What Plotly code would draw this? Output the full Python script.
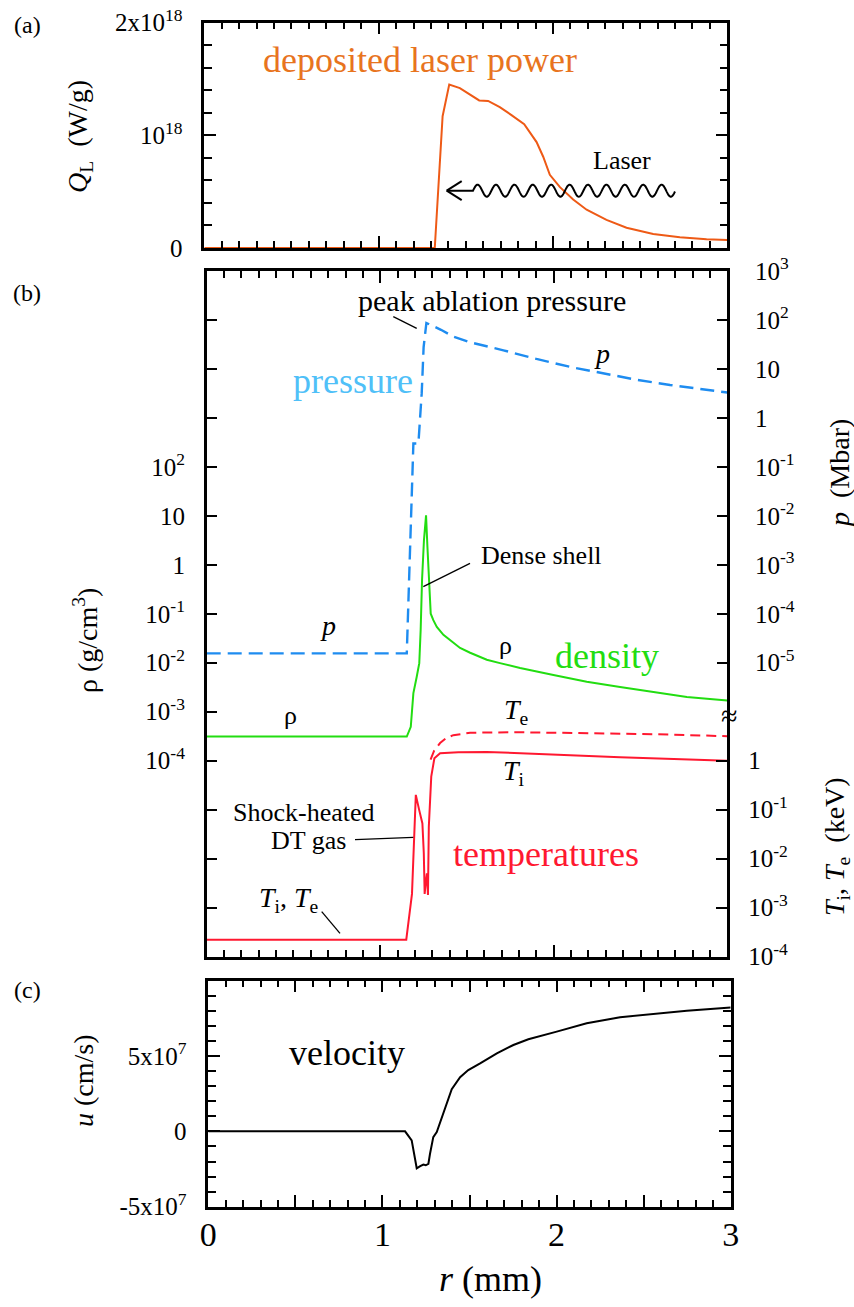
import plotly.graph_objects as go
import numpy as np

W, H = 854, 1307
FONT = "Liberation Serif"

# ---------------- data ----------------
# (a) deposited laser power, r in mm, Q in W/g
r_Q = [0, 1.322, 1.367, 1.405, 1.466, 1.523, 1.577, 1.628, 1.695, 1.762, 1.835, 1.906,
       1.944, 1.982, 2.04, 2.116, 2.193, 2.307, 2.422, 2.575, 2.728, 2.881, 3.0]
Q_L = [0, 0, 1.17e18, 1.45e18, 1.42e18, 1.36e18, 1.31e18, 1.305e18, 1.25e18, 1.18e18, 1.10e18,
       0.94e18, 0.81e18, 0.65e18, 0.54e18, 0.43e18, 0.34e18, 0.25e18, 0.18e18, 0.124e18,
       0.095e18, 0.077e18, 0.071e18]

# (b) density, g/cm^3
r_rho = [0, 1.153, 1.176, 1.191, 1.21, 1.225, 1.233, 1.241, 1.252, 1.264, 1.272, 1.283, 1.291,
         1.306, 1.326, 1.364, 1.421, 1.46, 1.518, 1.614, 1.69, 1.806, 1.998, 2.19, 2.382,
         2.574, 2.767, 3.0]
rho = [3.1e-4, 3.1e-4, 4.9e-4, 2.4e-3, 5.1e-3, 9.8e-3, 0.047, 0.49, 3.2, 10.2, 2.3, 0.30, 0.10,
       0.074, 0.054, 0.037, 0.025, 0.020, 0.016, 0.0115, 0.0098, 0.0078, 0.0056, 0.0041,
       0.0032, 0.0025, 0.0020, 0.0017]

# (b) pressure, Mbar
r_p = [0, 1.153, 1.191, 1.22, 1.239, 1.25, 1.266, 1.35, 1.42, 1.518, 1.71, 1.90, 2.094,
       2.286, 2.478, 2.67, 2.862, 3.0]
p = [1.55e-5, 1.55e-5, 0.30, 0.30, 3.2, 28, 87, 63, 46, 35, 24, 16, 11, 8.1, 6.0, 4.7, 3.8, 3.3]

# (b) ion temperature, keV
r_Ti = [0, 1.15, 1.183, 1.197, 1.205, 1.224, 1.243, 1.251, 1.256, 1.262, 1.269, 1.275, 1.28,
        1.294, 1.312, 1.345, 1.45, 1.614, 1.998, 2.382, 3.0]
T_i = [2.2e-4, 2.2e-4, 1.9e-3, 0.045, 0.20, 0.10, 0.052, 0.013, 0.0019, 0.0032, 0.005, 0.0018,
       0.045, 0.47, 1.12, 1.41, 1.48, 1.51, 1.32, 1.17, 1.0]

# (b) electron temperature, keV (where it departs from T_i)
r_Te = [1.29, 1.31, 1.345, 1.38, 1.421, 1.518, 1.806, 2.19, 2.574, 3.0]
T_e = [1.05, 1.58, 2.29, 2.88, 3.31, 3.72, 3.80, 3.63, 3.47, 3.16]

# (c) velocity, cm/s
r_u = [0, 1.13, 1.168, 1.187, 1.197, 1.217, 1.235, 1.249, 1.264, 1.273, 1.292, 1.312, 1.341,
       1.369, 1.398, 1.446, 1.493, 1.561, 1.657, 1.752, 1.838, 2.001, 2.173, 2.365, 2.556,
       2.748, 3.0]
u = [0, 0, -0.6e7, -1.71e7, -2.45e7, -2.31e7, -2.2e7, -2.25e7, -2.15e7, -1.5e7, -0.38e7,
     -0.05e7, 0.95e7, 1.85e7, 2.8e7, 3.6e7, 4.07e7, 4.51e7, 5.18e7, 5.73e7, 6.11e7, 6.62e7,
     7.18e7, 7.58e7, 7.8e7, 8.0e7, 8.22e7]

# tick labels
QL_tickvals = [0, 1e18, 2e18]
QL_ticktext = ["0", "10<sup>18</sup>", "2x10<sup>18</sup>"]
rho_exps = list(range(-8, 7))
rho_ticktext = {-4: "10<sup>-4</sup>", -3: "10<sup>-3</sup>", -2: "10<sup>-2</sup>",
                -1: "10<sup>-1</sup>", 0: "1", 1: "10", 2: "10<sup>2</sup>"}
p_exps = list(range(-5, 4))
p_ticktext = {-5: "10<sup>-5</sup>", -4: "10<sup>-4</sup>", -3: "10<sup>-3</sup>",
              -2: "10<sup>-2</sup>", -1: "10<sup>-1</sup>", 0: "1", 1: "10",
              2: "10<sup>2</sup>", 3: "10<sup>3</sup>"}
T_exps = list(range(-4, 1))
T_ticktext = {-4: "10<sup>-4</sup>", -3: "10<sup>-3</sup>", -2: "10<sup>-2</sup>",
              -1: "10<sup>-1</sup>", 0: "1"}
u_tickvals = [-5e7, 0, 5e7, 1e8]
u_ticktext = ["-5x10<sup>7</sup>", "0", "5x10<sup>7</sup>", ""]
r_tickvals = [0, 0.5, 1, 1.5, 2, 2.5, 3]
r_ticktext = ["0", "", "1", "", "2", "", "3"]

# colours
ORANGE_LINE = "#EE5A16"
ORANGE_TEXT = "#E8741E"
BLUE_LINE = "#1E8CF0"
BLUE_TEXT = "#4FC0F8"
GREEN = "#22DD11"
RED = "#FF1830"


def px(x):
    return x / W


def py(y):
    return 1 - y / H


fig = go.Figure()
fig.add_trace(go.Scatter(x=r_Q, y=Q_L, mode="lines", line=dict(color=ORANGE_LINE, width=2),
                         xaxis="x", yaxis="y"))
fig.add_trace(go.Scatter(x=r_p, y=p, mode="lines",
                         line=dict(color=BLUE_LINE, width=2.4, dash="14px,7px"),
                         xaxis="x2", yaxis="y3"))
fig.add_trace(go.Scatter(x=r_rho, y=rho, mode="lines", line=dict(color=GREEN, width=2),
                         xaxis="x2", yaxis="y2"))
fig.add_trace(go.Scatter(x=r_Ti, y=T_i, mode="lines", line=dict(color=RED, width=2),
                         xaxis="x2", yaxis="y4"))
fig.add_trace(go.Scatter(x=r_Te, y=T_e, mode="lines",
                         line=dict(color=RED, width=2, dash="10px,6px"),
                         xaxis="x2", yaxis="y4"))
fig.add_trace(go.Scatter(x=r_u, y=u, mode="lines", line=dict(color="black", width=2),
                         xaxis="x3", yaxis="y5"))

common = dict(showline=True, linewidth=2.5, linecolor="black", ticks="inside",
              tickwidth=2, tickcolor="black", showgrid=False, zeroline=False,
              automargin=False, tickfont=dict(family=FONT, size=25, color="black"))


def xax(x0, x1, anchor, labels=False):
    d = dict(common)
    d.update(domain=[px(x0), px(x1)], anchor=anchor, range=[0, 3], mirror="ticks",
             tickmode="array", tickvals=r_tickvals, ticktext=r_ticktext, ticklen=12,
             showticklabels=labels,
             minor=dict(tickmode="linear", tick0=0, dtick=0.1, ticklen=7, tickwidth=2,
                        ticks="inside", tickcolor="black"))
    if labels:
        d["tickfont"] = dict(family=FONT, size=34, color="black")
        d["ticklabelstandoff"] = -4
    return d


layout = dict(
    template="none",
    width=W, height=H, margin=dict(l=0, r=0, t=0, b=0, pad=0, autoexpand=False),
    autosize=False, paper_bgcolor="white", plot_bgcolor="white", showlegend=False,
    font=dict(family=FONT, color="black"),
    xaxis=xax(204.3, 727.3, "y"),
    xaxis2=xax(206.7, 727.3, "y2"),
    xaxis3=xax(208.3, 730.7, "y5", labels=True),
)

ya = dict(common)
ya.update(domain=[py(248), py(22.7)], anchor="x", range=[0, 2e18], mirror="ticks",
          tickmode="array", tickvals=QL_tickvals, ticktext=QL_ticktext, ticklen=12,
          ticklabelstandoff=14,
          minor=dict(tickmode="linear", tick0=0, dtick=2e17, ticklen=8, tickwidth=2,
                     ticks="inside", tickcolor="black"))
layout["yaxis"] = ya

y2 = dict(common)
y2.update(domain=[py(956.5), py(271)], anchor="x2", type="log", range=[-8, 6], mirror=False,
          tickmode="array", tickvals=[10.0 ** k for k in rho_exps],
          ticktext=[rho_ticktext.get(k, "") for k in rho_exps], ticklen=11,
          ticklabelstandoff=14)
layout["yaxis2"] = y2

y3 = dict(common)
y3.update(anchor="x2", overlaying="y2", side="right", type="log", range=[-11, 3],
          tickmode="array", tickvals=[10.0 ** k for k in p_exps],
          ticktext=[p_ticktext[k] for k in p_exps], ticklen=11, ticklabelstandoff=20)
layout["yaxis3"] = y3

y4 = dict(common)
y4.update(anchor="x2", overlaying="y2", side="right", type="log", range=[-4, 10],
          showline=False, tickmode="array", tickvals=[10.0 ** k for k in T_exps],
          ticktext=[T_ticktext[k] for k in T_exps], ticklen=11, ticklabelstandoff=20)
layout["yaxis4"] = y4

y5 = dict(common)
y5.update(domain=[py(1206.7), py(980.7)], anchor="x3", range=[-5e7, 1e8], mirror="ticks",
          tickmode="array", tickvals=u_tickvals, ticktext=u_ticktext, ticklen=12,
          ticklabelstandoff=14,
          minor=dict(tickmode="linear", tick0=0, dtick=1e7, ticklen=8, tickwidth=2,
                     ticks="inside", tickcolor="black"))
layout["yaxis5"] = y5

fig.update_layout(**layout)

anns = []


def ann(text, x, y, size, color="black", angle=0):
    anns.append(dict(text=text, x=px(x), y=py(y), xref="paper", yref="paper",
                     showarrow=False, textangle=angle, xanchor="center", yanchor="middle",
                     font=dict(family=FONT, size=size, color=color)))


ann("(a)", 27, 25, 24)
ann("(b)", 27, 293, 24)
ann("(c)", 27, 990, 24)
ann("<i>Q</i><sub>L</sub>  (W/g)", 80, 137, 28, angle=-90)
ann("ρ (g/cm<sup>3</sup>)", 86, 641, 28, angle=-90)
ann("<i>p</i>  (Mbar)", 840, 474, 28, angle=-90)
ann("<i>T</i><sub>i</sub>, <i>T</i><sub>e</sub>  (keV)", 836, 847, 28, angle=-90)
ann("<i>u</i> (cm/s)", 83, 1081, 28, angle=-90)
ann("<i>r</i> (mm)", 490, 1279, 36)
ann("deposited laser power", 420, 60, 36, ORANGE_TEXT)
ann("Laser", 622, 161, 26)
ann("peak ablation pressure", 492, 300, 30)
ann("pressure", 353, 381, 36, BLUE_TEXT)
ann("<i>p</i>", 328, 626, 28)
ann("<i>p</i>", 602, 354, 28)
ann("Dense shell", 541, 555, 26)
ann("ρ", 290, 716, 26)
ann("ρ", 505, 645, 26)
ann("density", 607, 656, 36, GREEN)
ann("<i>T</i><sub>e</sub>", 516, 711, 28)
ann("<i>T</i><sub>i</sub>", 514, 772, 28)
ann("temperatures", 546, 854, 36, RED)
ann("Shock-heated", 304, 812, 26)
ann("DT gas", 308, 840, 26)
ann("<i>T</i><sub>i</sub>, <i>T</i><sub>e</sub>", 289, 899, 28)
ann("velocity", 347, 1053, 36)
ann("≈", 729, 716, 30)
fig.update_layout(annotations=anns)

shapes = []


def seg(x0, y0, x1, y1, width=1.3, color="black"):
    shapes.append(dict(type="line", xref="paper", yref="paper", x0=px(x0), y0=py(y0),
                       x1=px(x1), y1=py(y1), line=dict(color=color, width=width)))


# leader lines for the labels
seg(393.3, 316.7, 416.7, 328.3)
seg(470, 563.3, 423.3, 586.7)
seg(355, 839.7, 413.3, 837.3)
seg(321.7, 911.7, 340, 933.3)

# wavy "Laser" arrow (decoration)
wx = np.linspace(473, 675, 400)
wy = 190.7 - 6.0 * np.sin((wx - 473) / 18.4 * 2 * np.pi)
path = "M {:.5f},{:.5f} L {:.5f},{:.5f} ".format(px(446.7), py(190.7), px(473), py(190.7))
path += " ".join("L {:.5f},{:.5f}".format(px(a), py(b)) for a, b in zip(wx, wy))
shapes.append(dict(type="path", xref="paper", yref="paper", path=path,
                   line=dict(color="black", width=2)))
seg(446.7, 190.7, 461.7, 181.2, 2)
seg(446.7, 190.7, 461.7, 200.2, 2)

fig.update_layout(shapes=shapes)
fig.write_html("out.html")
